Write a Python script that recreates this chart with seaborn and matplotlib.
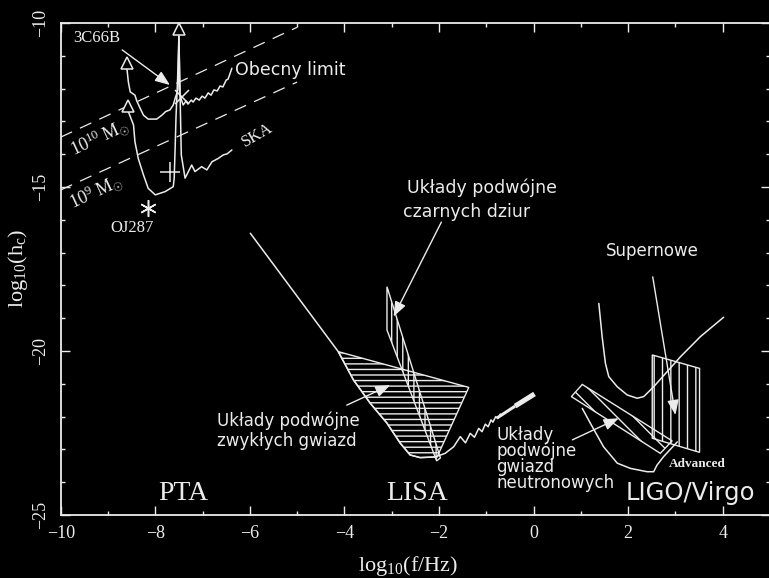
import matplotlib
matplotlib.use("Agg")
import matplotlib.pyplot as plt
import seaborn as sns

# ---------------- PTA band (log10 f [Hz], log10 h_c) ----------------
# present pulsar-timing upper limit
pta_now_x = [-8.60, -8.57, -8.53, -8.43, -8.39, -8.32, -8.25, -8.15, -7.97, -7.86,
             -7.78, -7.69, -7.62, -7.58, -7.52, -7.50, -7.48, -7.41, -7.35, -7.31,
             -7.24, -7.20, -7.14, -7.07, -7.01, -6.95, -6.88, -6.82, -6.76, -6.69,
             -6.63, -6.57, -6.50, -6.46, -6.38]
pta_now_y = [-11.38, -11.79, -12.10, -12.20, -12.38, -12.60, -12.81, -12.93, -12.93, -12.81,
             -12.70, -12.65, -12.50, -12.30, -12.04, -10.40, -12.20, -12.50, -12.38, -12.47,
             -12.35, -12.41, -12.29, -12.35, -12.23, -12.29, -12.13, -12.20, -12.04, -12.07,
             -11.92, -11.95, -11.74, -11.71, -11.38]
# SKA sensitivity
pta_ska_x = [-8.57, -8.46, -8.43, -8.36, -8.25, -8.15, -8.00, -7.79, -7.62, -7.60,
             -7.58, -7.56, -7.53, -7.50, -7.45, -7.37, -7.23, -7.16, -7.02, -6.91,
             -6.80, -6.67, -6.56, -6.48, -6.38]
pta_ska_y = [-12.70, -13.11, -13.62, -14.13, -14.63, -15.04, -15.24, -15.14, -14.99, -14.74,
             -13.81, -12.81, -11.79, -10.40, -14.02, -14.73, -14.33, -14.53, -14.38, -14.48,
             -14.23, -14.13, -14.02, -13.99, -13.87]
# open arrow heads (upper limits)
head_x = [-8.60, -8.57, -7.50]
head_y = [-11.23, -12.53, -10.18]
# individual sources
src_3c66b = (-7.44, -12.26)
src_plus = (-7.69, -14.53)
src_oj287 = (-8.15, -15.65)
# binary mass tracks, h_c ~ f^(2/3)
mass_x = [-10.0, -5.0]
mass_1e10_y = [-13.48, -10.13]
mass_1e9_y = [-15.09, -11.80]

# ---------------- LISA band ----------------
lisa_x = [-5.99, -4.13, -3.81, -3.45, -3.10, -2.82, -2.61, -2.40, -2.08, -1.87,
          -1.69, -1.55, -1.44, -1.34, -1.25, -1.16, -1.09, -1.02, -0.96, -0.90,
          -0.86, -0.80, -0.76, -0.70]
lisa_y = [-16.41, -20.02, -20.88, -21.60, -22.20, -22.81, -23.17, -23.25, -23.23, -23.12,
          -22.92, -22.61, -22.80, -22.51, -22.63, -22.36, -22.46, -22.23, -22.31, -22.10,
          -22.17, -22.00, -22.06, -21.92]
lisa_dense_x = [-0.77, -0.39, 0.02]
lisa_dense_y = [-22.04, -21.68, -21.31]
# galactic white-dwarf binaries
wd_x = [-4.13, -1.37, -2.04, -2.40, -2.61, -2.82, -3.10, -3.45, -3.81]
wd_y = [-20.02, -21.11, -23.23, -23.25, -23.17, -22.81, -22.20, -21.60, -20.88]
# massive black-hole binaries
smbh_x = [-3.10, -3.10, -2.05, -1.97]
smbh_y = [-18.04, -19.36, -23.35, -23.26]

# ---------------- ground-based band ----------------
ligo_x = [1.38, 1.45, 1.52, 1.59, 1.77, 1.98, 2.19, 2.33, 2.54, 3.11, 3.53, 4.02]
ligo_y = [-18.55, -19.56, -20.38, -20.78, -21.09, -21.34, -21.44, -21.39, -21.09, -20.17,
          -19.56, -18.97]
adv_x = [1.03, 1.20, 1.48, 1.77, 2.05, 2.40, 2.54, 2.61, 2.75, 3.04]
adv_y = [-21.75, -22.20, -22.92, -23.42, -23.58, -23.68, -23.68, -23.48, -23.22, -22.77]
ns_x = [1.03, 2.93, 2.68, 0.80]
ns_y = [-21.02, -22.74, -23.12, -21.39]
sn_x = [2.51, 3.51, 3.51, 2.51]
sn_y = [-20.12, -20.53, -23.09, -22.66]

# label arrows: (start, tip)
arrows = [((-8.70, -10.82), (-7.69, -11.89)),
          ((-1.95, -16.07), (-2.96, -18.95)),
          ((-3.95, -21.65), (-3.03, -21.04)),
          ((2.52, -17.74), (3.00, -21.95)),
          ((0.82, -22.71), (1.80, -22.05))]

fg = "#ececec"
sns.set_theme(style="dark")
plt.rcParams.update({
    "figure.facecolor": "black",
    "axes.facecolor": "black",
    "savefig.facecolor": "black",
    "axes.edgecolor": fg,
    "axes.grid": False,
    "text.color": fg,
    "axes.labelcolor": fg,
    "xtick.color": fg,
    "ytick.color": fg,
    "hatch.color": fg,
    "hatch.linewidth": 1.0,
    "mathtext.fontset": "custom",
    "mathtext.rm": "Liberation Serif",
    "mathtext.it": "Liberation Serif:italic",
})
plt.rcParams["font.family"] = ["Liberation Serif", "DejaVu Serif"]
SANS = ["DejaVu Sans"]

fig = plt.figure(figsize=(7.69, 5.78), dpi=100)
ax = fig.add_axes([60.7 / 769, 63 / 578, 709.3 / 769, 492 / 578])


def curve(x, y, lw=1.1):
    sns.lineplot(x=x, y=y, ax=ax, sort=False, estimator=None, color=fg,
                 linewidth=lw, legend=False)


# PTA
curve(pta_now_x, pta_now_y)
curve(pta_ska_x, pta_ska_y)
ax.plot(mass_x, mass_1e10_y, color=fg, lw=0.9, ls=(0, (10, 7)))
ax.plot(mass_x, mass_1e9_y, color=fg, lw=0.9, ls=(0, (10, 7)))
ax.plot(head_x, head_y, ls="none", marker="^", ms=9, mfc="black", mec=fg, mew=1.1,
        zorder=5, clip_on=False)
ax.plot(*src_3c66b, marker="x", ms=10, mec=fg, mew=1.1, ls="none")
ax.plot(*src_plus, marker="+", ms=14, mec=fg, mew=1.1, ls="none")
ax.plot(*src_oj287, marker=(6, 2, 0), ms=12, mec=fg, mew=1.1, ls="none")

# LISA
curve(lisa_x, lisa_y)
for (x0, x1), (y0, y1), w in zip(zip(lisa_dense_x[:-1], lisa_dense_x[1:]),
                                 zip(lisa_dense_y[:-1], lisa_dense_y[1:]), [2.2, 3.6]):
    ax.plot([x0, x1], [y0, y1], color=fg, lw=w, solid_capstyle="butt")
ax.fill(wd_x, wd_y, facecolor="none", edgecolor=fg, hatch="---", lw=1.0)
ax.fill(smbh_x, smbh_y, facecolor="none", edgecolor=fg, hatch="|||", lw=1.0)

# LIGO / Virgo
curve(ligo_x, ligo_y)
curve(adv_x, adv_y)
ax.fill(ns_x, ns_y, facecolor="none", edgecolor=fg, hatch="\\\\", lw=1.0)
ax.fill(sn_x, sn_y, facecolor="none", edgecolor=fg, hatch="||", lw=1.0)

for start, tip in arrows:
    ax.annotate("", xy=tip, xytext=start,
                arrowprops=dict(arrowstyle="-|>,head_length=0.9,head_width=0.35",
                                color=fg, lw=1.0, shrinkA=0, shrinkB=0,
                                mutation_scale=10))

# serif labels
ax.text(-9.23, -10.46, "3C66B", fontsize=12, ha="center", va="center")
ax.text(-8.49, -16.24, "OJ287", fontsize=12, ha="center", va="center")
ax.text(-5.85, -13.42, "SKA", fontsize=12, ha="center", va="center", rotation=30,
        rotation_mode="anchor")
ax.text(-9.17, -13.51, r"$\mathrm{10^{10}\ M_{\odot}}$", fontsize=13, ha="center",
        va="center", rotation=25, rotation_mode="anchor")
ax.text(-9.25, -15.15, r"$\mathrm{10^{9}\ M_{\odot}}$", fontsize=13, ha="center",
        va="center", rotation=25, rotation_mode="anchor")
ax.text(-7.40, -24.54, "PTA", fontsize=20, ha="center", va="baseline")
ax.text(-2.47, -24.54, "LISA", fontsize=20, ha="center", va="baseline")
ax.text(3.47, -23.54, "Advanced", fontsize=9.5, fontweight="bold", ha="center",
        va="baseline")

# sans labels
ax.text(-6.31, -11.59, "Obecny limit", fontsize=12.5, family=SANS, va="baseline")
ax.text(-1.10, -15.18, "Układy podwójne", fontsize=12.5, family=SANS, ha="center",
        va="baseline")
ax.text(-1.42, -15.91, "czarnych dziur", fontsize=12.5, family=SANS, ha="center",
        va="baseline")
ax.text(2.52, -17.10, "Supernowe", fontsize=12, family=SANS, ha="center", va="baseline")
ax.text(-5.18, -22.29, "Układy podwójne", fontsize=12, family=SANS, ha="center",
        va="baseline")
ax.text(-5.21, -22.90, "zwykłych gwiazd", fontsize=12, family=SANS, ha="center",
        va="baseline")
ax.text(-0.79, -24.18, "Układy\npodwójne\ngwiazd\nneutronowych", fontsize=12,
        family=SANS, ha="left", va="baseline", multialignment="left", linespacing=0.86)
ax.text(3.32, -24.54, "LIGO/Virgo", fontsize=17.5, family=SANS, ha="center",
        va="baseline")

# axes
ax.set_xlim(-10, 5)
ax.set_ylim(-25, -10)
ax.set_xticks(range(-10, 5, 2))
ax.set_xticks(range(-10, 6), minor=True)
ax.set_yticks([-25, -20, -15, -10])
ax.set_yticks(range(-25, -9), minor=True)
ax.tick_params(which="both", direction="in", top=True, right=True, bottom=True,
               left=True, color=fg, width=1.0)
ax.tick_params(which="major", length=6.5)
ax.tick_params(which="minor", length=3.2)
ax.tick_params(axis="x", labelsize=13, pad=7)
ax.tick_params(axis="y", labelsize=13, pad=8, labelrotation=90)
for lbl in ax.get_yticklabels():
    lbl.set_va("center")
for sp in ax.spines.values():
    sp.set_color(fg)
    sp.set_linewidth(1.3)

ax.set_xlabel(r"$\mathrm{log_{10}(f/Hz)}$", fontsize=16, va="center")
ax.xaxis.set_label_coords((408 - 60.7) / 709.3, (515 - 566) / 492)
ax.set_ylabel(r"$\mathrm{log_{10}(h_c)}$", fontsize=16, va="center")
ax.yaxis.set_label_coords((18 - 60.7) / 709.3, (515 - 268) / 492)

fig.savefig("out.png", dpi=100, facecolor="black")
